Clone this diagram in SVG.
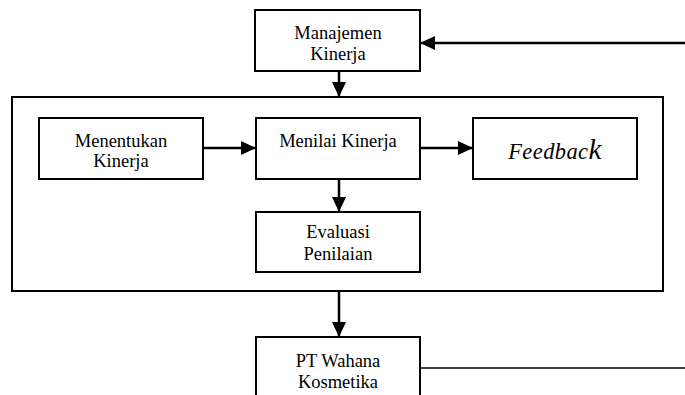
<svg xmlns="http://www.w3.org/2000/svg" width="685" height="395" viewBox="0 0 685 395">
<defs>
<marker id="ah" markerUnits="userSpaceOnUse" markerWidth="15" markerHeight="14" viewBox="0 0 15 14" refX="15" refY="7" orient="auto">
<path d="M0,0 L15,7 L0,14 Z" fill="#000"/>
</marker>
</defs>
<style>
.box{fill:#fff;stroke:#000;stroke-width:2}
.t{font-family:"Liberation Serif","Times New Roman",serif;font-size:18.5px;text-anchor:middle;fill:#000}
.c{fill:none;stroke:#000;stroke-width:2.5}
</style>
<rect id="frame" x="12" y="97" width="651" height="194" fill="none" stroke="#000" stroke-width="2"/>
<g id="manajemen">
<rect class="box" x="255" y="10" width="165" height="61"/>
<text class="t" x="338" y="39">Manajemen</text>
<text class="t" x="338" y="60">Kinerja</text>
</g>
<g id="menentukan">
<rect class="box" x="39" y="118" width="164" height="61"/>
<text class="t" x="121" y="147">Menentukan</text>
<text class="t" x="121" y="167">Kinerja</text>
</g>
<g id="menilai">
<rect class="box" x="256" y="118" width="164" height="61"/>
<text class="t" x="338" y="147">Menilai Kinerja</text>
</g>
<g id="feedback">
<rect class="box" x="473" y="118" width="164" height="61"/>
<text class="t" x="555" y="159" style="font-style:italic;font-size:22.5px;letter-spacing:0.4px">Feedbac<tspan style="font-size:29px">k</tspan></text>
</g>
<g id="evaluasi">
<rect class="box" x="256" y="212" width="164" height="60"/>
<text class="t" x="338" y="238">Evaluasi</text>
<text class="t" x="338" y="260">Penilaian</text>
</g>
<g id="pt">
<rect class="box" x="256" y="337" width="164" height="70"/>
<text class="t" x="338" y="367">PT Wahana</text>
<text class="t" x="338" y="388">Kosmetika</text>
</g>
<g id="connectors">
<line class="c" x1="685" y1="43" x2="420" y2="43" marker-end="url(#ah)"/>
<line class="c" x1="339" y1="71" x2="339" y2="97" marker-end="url(#ah)"/>
<line class="c" x1="203" y1="148" x2="256" y2="148" marker-end="url(#ah)"/>
<line class="c" x1="420" y1="148" x2="473" y2="148" marker-end="url(#ah)"/>
<line class="c" x1="339" y1="179" x2="339" y2="212" marker-end="url(#ah)"/>
<line class="c" x1="339" y1="291" x2="339" y2="337" marker-end="url(#ah)"/>
<line x1="420" y1="368" x2="685" y2="368" stroke="#000" stroke-width="1.5"/>
</g>
</svg>
